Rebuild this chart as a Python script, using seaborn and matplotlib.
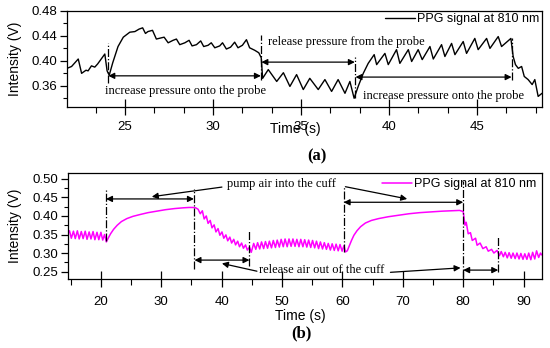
import pandas as pd
import matplotlib.pyplot as plt
from matplotlib.ticker import AutoMinorLocator
import seaborn as sns

sns.set_style('ticks', {'axes.edgecolor': 'black', 'xtick.color': 'black', 'ytick.color': 'black',
                        'text.color': 'black', 'axes.labelcolor': 'black'})
plt.rcParams['font.family'] = ['Liberation Sans', 'DejaVu Sans']
SERIF = 'Liberation Serif'

# (a) PPG trace while pressing / releasing the probe
time_a = [21.7, 21.96, 22.34, 22.53, 22.78, 22.9, 23.09, 23.28, 23.44, 23.85,
          23.98, 24.1, 24.3, 24.6, 24.9, 25.27, 25.56, 25.8, 26.0, 26.16,
          26.3, 26.56, 26.78, 27.07, 27.22, 27.45, 27.73, 27.92, 28.11, 28.4,
          28.64, 28.81, 29.06, 29.3, 29.47, 29.72, 29.9, 30.1, 30.38, 30.54,
          30.76, 31.0, 31.23, 31.42, 31.67, 31.9, 32.08, 32.37, 32.6, 32.74,
          32.82, 33.14, 33.62, 34.0, 34.37, 34.75, 35.13, 35.5, 35.98, 36.36,
          36.74, 37.11, 37.5, 37.78, 38.02, 38.25, 38.54, 38.82, 39.16, 39.3,
          39.77, 39.96, 40.43, 40.62, 41.1, 41.29, 41.66, 41.89, 42.33, 42.52,
          42.99, 43.18, 43.56, 43.75, 44.22, 44.41, 44.88, 45.07, 45.55, 45.74,
          46.21, 46.4, 46.93, 47.06, 47.19, 47.35, 47.54, 47.69, 47.91, 48.14,
          48.29, 48.48, 48.7]
ppg_a = [0.388, 0.391, 0.403, 0.380, 0.385, 0.384, 0.392, 0.390, 0.395, 0.411,
         0.384, 0.377, 0.397, 0.423, 0.438, 0.446, 0.447, 0.451, 0.453, 0.444,
         0.447, 0.449, 0.435, 0.437, 0.438, 0.429, 0.433, 0.435, 0.426, 0.429,
         0.433, 0.424, 0.426, 0.432, 0.423, 0.425, 0.429, 0.421, 0.424, 0.429,
         0.419, 0.422, 0.430, 0.421, 0.425, 0.434, 0.421, 0.417, 0.413, 0.405,
         0.372, 0.386, 0.367, 0.381, 0.359, 0.378, 0.354, 0.372, 0.354, 0.370,
         0.351, 0.370, 0.348, 0.367, 0.340, 0.359, 0.380, 0.396, 0.410, 0.394,
         0.412, 0.394, 0.418, 0.396, 0.418, 0.399, 0.418, 0.402, 0.423, 0.403,
         0.426, 0.407, 0.428, 0.410, 0.431, 0.412, 0.436, 0.418, 0.436, 0.420,
         0.439, 0.423, 0.436, 0.407, 0.394, 0.388, 0.391, 0.375, 0.370, 0.362,
         0.370, 0.343, 0.348]

# (b) PPG trace while pumping / releasing the cuff
time_b = [14.5, 14.8, 15.1, 15.45, 15.75, 16.1, 16.4, 16.75, 17.05, 17.4,
          17.7, 18.05, 18.35, 18.7, 19.0, 19.35, 19.65, 20.0, 20.3, 20.6,
          20.9, 21.2, 21.6, 22.1, 22.7, 23.4, 24.3, 25.3, 26.5, 27.8,
          29.2, 30.7, 32.2, 33.6, 34.6, 35.2, 35.7, 36.1, 36.45, 36.8,
          37.1, 37.45, 37.75, 38.1, 38.4, 38.75, 39.05, 39.4, 39.7, 40.05,
          40.35, 40.7, 41.0, 41.35, 41.65, 42.0, 42.3, 42.65, 42.95, 43.3,
          43.6, 43.95, 44.25, 44.6, 44.9, 45.3, 45.65, 45.95, 46.3, 46.6,
          46.95, 47.25, 47.6, 47.9, 48.25, 48.55, 48.9, 49.2, 49.55, 49.85,
          50.2, 50.5, 50.85, 51.15, 51.5, 51.8, 52.15, 52.45, 52.8, 53.1,
          53.45, 53.75, 54.1, 54.4, 54.75, 55.05, 55.4, 55.7, 56.05, 56.35,
          56.7, 57.0, 57.35, 57.65, 58.0, 58.3, 58.65, 58.95, 59.3, 59.6,
          59.95, 60.25, 60.5, 60.8, 61.1, 61.5, 61.9, 62.4, 63.0, 63.8,
          64.8, 66.0, 67.6, 69.3, 71.0, 72.8, 74.6, 76.5, 78.2, 79.4,
          80.0, 80.3, 80.5, 80.83, 81.2, 81.5, 82.05, 82.3, 82.8, 83.26,
          83.8, 84.15, 84.7, 85.08, 85.6, 86.0, 86.3, 86.65, 86.95, 87.3,
          87.6, 87.95, 88.25, 88.6, 88.9, 89.25, 89.55, 89.9, 90.2, 90.55,
          90.85, 91.2, 91.5, 91.85, 92.15, 92.5, 92.8, 93.0]
ppg_b = [0.352, 0.360, 0.340, 0.359, 0.339, 0.360, 0.338, 0.358, 0.339, 0.359,
         0.337, 0.357, 0.338, 0.358, 0.336, 0.356, 0.336, 0.356, 0.335, 0.350,
         0.330, 0.340, 0.352, 0.364, 0.375, 0.385, 0.393, 0.399, 0.404, 0.409,
         0.413, 0.417, 0.420, 0.422, 0.423, 0.423, 0.422, 0.418, 0.406, 0.414,
         0.392, 0.400, 0.380, 0.388, 0.368, 0.376, 0.357, 0.366, 0.348, 0.357,
         0.340, 0.349, 0.333, 0.343, 0.327, 0.337, 0.322, 0.332, 0.317, 0.327,
         0.313, 0.322, 0.308, 0.316, 0.302, 0.326, 0.310, 0.328, 0.311, 0.330,
         0.312, 0.331, 0.313, 0.332, 0.314, 0.334, 0.315, 0.335, 0.316, 0.337,
         0.317, 0.338, 0.317, 0.338, 0.318, 0.338, 0.318, 0.337, 0.317, 0.337,
         0.317, 0.336, 0.316, 0.335, 0.315, 0.334, 0.314, 0.332, 0.312, 0.330,
         0.311, 0.328, 0.310, 0.326, 0.308, 0.325, 0.307, 0.324, 0.306, 0.323,
         0.305, 0.320, 0.303, 0.306, 0.318, 0.334, 0.348, 0.360, 0.371, 0.381,
         0.388, 0.393, 0.398, 0.402, 0.406, 0.409, 0.411, 0.413, 0.414, 0.415,
         0.412, 0.375, 0.383, 0.352, 0.355, 0.334, 0.340, 0.321, 0.327, 0.312,
         0.317, 0.305, 0.310, 0.300, 0.307, 0.293, 0.304, 0.290, 0.302, 0.287,
         0.301, 0.286, 0.300, 0.285, 0.300, 0.284, 0.299, 0.283, 0.298, 0.283,
         0.300, 0.282, 0.302, 0.284, 0.306, 0.288, 0.300, 0.295]

# event markers (dash-dot verticals)
mark_a_t = [24.05, 32.72, 38.06, 46.97]
mark_a_lo = [0.365, 0.370, 0.341, 0.370]
mark_a_hi = [0.429, 0.442, 0.407, 0.436]
mark_b_t = [20.85, 35.4, 44.6, 60.2, 80.0, 85.8]
mark_b_lo = [0.333, 0.257, 0.266, 0.302, 0.235, 0.248]
mark_b_hi = [0.476, 0.473, 0.362, 0.482, 0.495, 0.343]

# double-headed spans
span_a_start = [24.05, 32.75, 38.1]
span_a_end = [32.72, 38.06, 46.97]
span_a_y = [0.376, 0.398, 0.374]
span_b_start = [20.85, 35.5, 60.2, 80.0]
span_b_end = [35.4, 44.6, 80.0, 85.8]
span_b_y = [0.446, 0.281, 0.437, 0.254]

df_a = pd.DataFrame({'time': time_a, 'ppg': ppg_a})
df_b = pd.DataFrame({'time': time_b, 'ppg': ppg_b})


def double_arrow(ax, x0, x1, y):
    ax.annotate('', xy=(x1, y), xytext=(x0, y),
                arrowprops=dict(arrowstyle='<|-|>', color='black', lw=0.9,
                                mutation_scale=9, shrinkA=0, shrinkB=0))


def pointer(ax, x0, y0, x1, y1):
    ax.annotate('', xy=(x1, y1), xytext=(x0, y0),
                arrowprops=dict(arrowstyle='-|>', color='black', lw=0.9,
                                mutation_scale=9, shrinkA=0, shrinkB=0))


def style_axes(ax, xpad):
    for s in ax.spines.values():
        s.set_linewidth(0.9)
    ax.tick_params(axis='x', which='major', direction='inout', length=12, width=0.9, pad=xpad, labelsize=9.5)
    ax.tick_params(axis='x', which='minor', direction='out', length=4, width=0.8)
    ax.tick_params(axis='y', which='major', direction='out', length=5, width=0.9, pad=2, labelsize=9.5)
    ax.tick_params(axis='y', which='minor', direction='out', length=3, width=0.8)
    ax.set_ylabel('Intensity (V)', fontsize=10)
    ax.set_xlabel('Time (s)', fontsize=10)


fig = plt.figure(figsize=(5.5, 3.48), dpi=100)
ax1 = fig.add_axes([0.1218, 0.6925, 0.8637, 0.2759])
ax2 = fig.add_axes([0.1231, 0.1983, 0.8618, 0.3046])

# ---- panel (a)
sns.lineplot(data=df_a, x='time', y='ppg', ax=ax1, color='black', linewidth=1.0,
             estimator=None, sort=False, label='PPG signal at 810 nm')
ax1.set_xlim(21.7, 48.7)
ax1.set_ylim(0.326, 0.48)
ax1.set_xticks([25, 30, 35, 40, 45])
ax1.set_yticks([0.36, 0.40, 0.44, 0.48])
ax1.xaxis.set_minor_locator(AutoMinorLocator(3))
ax1.yaxis.set_minor_locator(AutoMinorLocator(2))
style_axes(ax1, 4)
ax1.vlines(mark_a_t, mark_a_lo, mark_a_hi, colors='black', linestyles='dashdot', linewidth=0.9)
for x0, x1, y in zip(span_a_start, span_a_end, span_a_y):
    double_arrow(ax1, x0, x1, y)
ax1.text(28.46, 0.351, 'increase pressure onto the probe', family=SERIF, fontsize=9,
         ha='center', va='center')
ax1.text(33.1, 0.431, 'release pressure from the probe', family=SERIF, fontsize=9,
         ha='left', va='center')
ax1.text(43.12, 0.344, 'increase pressure onto the probe', family=SERIF, fontsize=9,
         ha='center', va='center')
ax1.legend(loc='upper right', frameon=False, fontsize=9, handlelength=2.4,
           handletextpad=0.2, borderaxespad=0.1, borderpad=0.1)
ax1.yaxis.set_label_coords(-0.095, 0.5)
ax1.xaxis.set_label_coords(0.48, -0.155)

# ---- panel (b)
sns.lineplot(data=df_b, x='time', y='ppg', ax=ax2, color='#ff00ff', linewidth=1.1,
             estimator=None, sort=False, label='PPG signal at 810 nm')
ax2.set_xlim(14.5, 93.0)
ax2.set_ylim(0.230, 0.516)
ax2.set_xticks([20, 30, 40, 50, 60, 70, 80, 90])
ax2.set_yticks([0.25, 0.30, 0.35, 0.40, 0.45, 0.50])
ax2.xaxis.set_minor_locator(AutoMinorLocator(2))
ax2.yaxis.set_minor_locator(AutoMinorLocator(2))
style_axes(ax2, 6.5)
ax2.vlines(mark_b_t, mark_b_lo, mark_b_hi, colors='black', linestyles='dashdot', linewidth=0.9)
for x0, x1, y in zip(span_b_start, span_b_end, span_b_y):
    double_arrow(ax2, x0, x1, y)
ax2.text(49.92, 0.4865, 'pump air into the cuff', family=SERIF, fontsize=9,
         ha='center', va='center')
pointer(ax2, 40.04, 0.478, 28.43, 0.452)
pointer(ax2, 60.49, 0.479, 70.72, 0.446)
ax2.text(56.62, 0.2543, 'release air out of the cuff', family=SERIF, fontsize=9,
         ha='center', va='center')
pointer(ax2, 45.84, 0.251, 40.04, 0.272)
pointer(ax2, 67.95, 0.248, 79.56, 0.260)
ax2.legend(loc='upper right', frameon=False, fontsize=9, handlelength=2.4,
           handletextpad=0.2, borderaxespad=0.3, borderpad=0.1)
ax2.yaxis.set_label_coords(-0.096, 0.5)
ax2.xaxis.set_label_coords(0.49, -0.285)

fig.text(317 / 550, 1 - 156 / 348, '(a)', family=SERIF, fontweight='bold', fontsize=12,
         ha='center', va='center')
fig.text(301 / 550, 1 - 333 / 348, '(b)', family=SERIF, fontweight='bold', fontsize=12,
         ha='center', va='center')

fig.savefig('out.png', dpi=100)
